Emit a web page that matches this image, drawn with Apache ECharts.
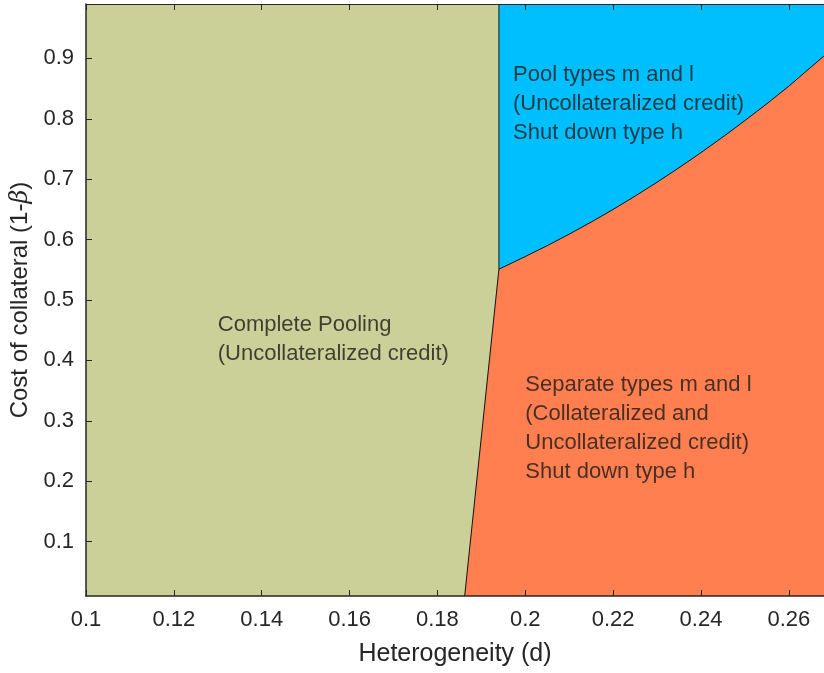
<!DOCTYPE html>
<html>
<head>
<meta charset="utf-8">
<script src="https://cdn.jsdelivr.net/npm/echarts@6/dist/echarts.min.js"></script>
<style>
html,body{margin:0;padding:0;background:#fff;}
#chart{width:824px;height:673px;}
</style>
</head>
<body>
<div id="chart"></div>
<script>
// ---- data ----
const xTicks = [0.1, 0.12, 0.14, 0.16, 0.18, 0.2, 0.22, 0.24, 0.26];
const yTicks = [0.1, 0.2, 0.3, 0.4, 0.5, 0.6, 0.7, 0.8, 0.9];
const xRange = [0.1, 0.268];
const yRange = [0.01, 0.99];

// upper edge of the whole plot (Complete Pooling region background)
const poolingX = [0.1, 0.268];
const poolingY = [0.99, 0.99];

// Pool types m and l region (top-right), starts at d = 0.194
const poolMLX = [0.194, 0.268];
const poolMLY = [0.99, 0.99];

// Separate types boundary (lower-right region upper edge)
const sepX = [0.1862, 0.194, 0.200, 0.205, 0.210, 0.215, 0.220, 0.225, 0.230, 0.235, 0.240, 0.245, 0.250, 0.255, 0.260, 0.268];
const sepY = [0.01, 0.551, 0.572, 0.590, 0.609, 0.629, 0.650, 0.672, 0.695, 0.719, 0.744, 0.770, 0.797, 0.825, 0.854, 0.904];

// vertical boundary between Complete Pooling and Pool types m and l
const vertX = [0.194, 0.194];
const vertY = [0.551, 0.99];

// region labels
const labelX = [0.13, 0.1972, 0.2];
const labelY = [0.435, 0.8245, 0.287];
const labelText = [
  'Complete Pooling\n(Uncollateralized credit)',
  'Pool types m and l\n(Uncollateralized credit)\nShut down type h',
  'Separate types m and l\n(Collateralized and\nUncollateralized credit)\nShut down type h'
];

const zip = (a, b) => a.map((v, i) => [v, b[i]]);
const FONT = '"Liberation Sans", Arial, Helvetica, sans-serif';
const AX = '#262626';

const chart = echarts.init(document.getElementById('chart'), null, {renderer: 'canvas'});

const fmt = v => String(+(+v).toFixed(2));

chart.setOption({
  animation: false,
  backgroundColor: '#ffffff',
  textStyle: {fontFamily: FONT},
  grid: {left: 86, right: 0, top: 4, bottom: 77},
  xAxis: [
    {
      type: 'value', position: 'bottom', min: xRange[0], max: xRange[1], z: 10,
      name: 'Heterogeneity (d)', nameLocation: 'middle', nameGap: 46,
      nameTextStyle: {fontSize: 25, color: AX, fontFamily: FONT},
      axisLine: {show: true, onZero: false, lineStyle: {color: AX, width: 1.5}},
      axisTick: {show: true, inside: true, length: 6, customValues: xTicks, lineStyle: {color: AX, width: 1}},
      axisLabel: {show: true, customValues: xTicks, margin: 13, fontSize: 22, color: AX, fontFamily: FONT, formatter: fmt},
      splitLine: {show: false}
    },
    {
      type: 'value', position: 'top', min: xRange[0], max: xRange[1], z: 10,
      axisLine: {show: true, onZero: false, lineStyle: {color: AX, width: 1}},
      axisTick: {show: true, inside: true, length: 6, customValues: xTicks, lineStyle: {color: AX, width: 1}},
      axisLabel: {show: false},
      splitLine: {show: false}
    }
  ],
  yAxis: [
    {
      type: 'value', position: 'left', min: yRange[0], max: yRange[1], z: 10,
      name: 'Cost of collateral (1-{b|β})', nameLocation: 'middle', nameGap: 49, nameRotate: 90,
      nameTextStyle: {fontSize: 24, color: AX, fontFamily: FONT,
        rich: {b: {fontSize: 24, color: AX, fontStyle: 'italic', fontFamily: '"DejaVu Serif", serif'}}},
      axisLine: {show: true, onZero: false, lineStyle: {color: AX, width: 1.5}},
      axisTick: {show: true, inside: true, length: 6, customValues: yTicks, lineStyle: {color: AX, width: 1}},
      axisLabel: {show: true, customValues: yTicks, margin: 12, fontSize: 22, color: AX, fontFamily: FONT, formatter: fmt},
      splitLine: {show: false}
    }
  ],
  series: [
    {
      type: 'line', data: zip(poolingX, poolingY), symbol: 'none', silent: true, z: 1,
      lineStyle: {width: 0, opacity: 0},
      areaStyle: {color: '#CBD098', opacity: 1, origin: 'start'}
    },
    {
      type: 'line', data: zip(poolMLX, poolMLY), symbol: 'none', silent: true, z: 2,
      lineStyle: {width: 0, opacity: 0},
      areaStyle: {color: '#00BFFF', opacity: 1, origin: 'start'}
    },
    {
      type: 'line', data: zip(sepX, sepY), symbol: 'none', silent: true, z: 3,
      lineStyle: {width: 1, color: '#111111'},
      areaStyle: {color: '#FF7F50', opacity: 1, origin: 'start'}
    },
    {
      type: 'line', data: zip(vertX, vertY), symbol: 'none', silent: true, z: 4,
      lineStyle: {width: 1, color: '#1a1a1a'}
    },
    {
      type: 'scatter', z: 5, silent: true, symbolSize: 0,
      data: labelX.map((x, i) => ({value: [x, labelY[i]], name: labelText[i]})),
      label: {
        show: true, position: 'right', distance: 0,
        formatter: p => p.name,
        fontSize: 22, lineHeight: 29, color: '#1a1a1a', fontFamily: FONT, align: 'left', verticalAlign: 'middle'
      }
    }
  ]
});
</script>
</body>
</html>
